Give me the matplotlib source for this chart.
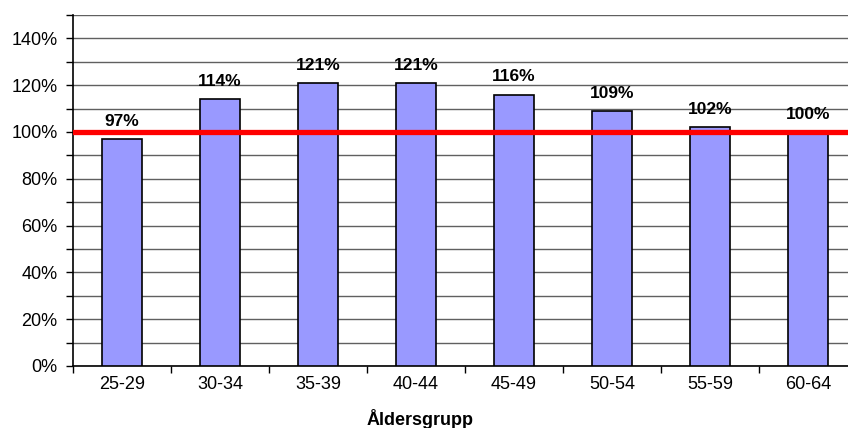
import numpy as np
import matplotlib.pyplot as plt
from matplotlib.ticker import MultipleLocator, FuncFormatter

plt.rcParams['font.family'] = ['Liberation Sans', 'DejaVu Sans']

groups = ['25-29', '30-34', '35-39', '40-44', '45-49', '50-54', '55-59', '60-64']
values = [97, 114, 121, 121, 116, 109, 102, 100]
ref_level = 100

fig = plt.figure(figsize=(8.48, 4.28), dpi=100)
# axes run a bit past the right edge of the figure
ax = fig.add_axes([73/848, 62/428, 784/848, 351/428])

x = np.arange(len(groups))
ax.bar(x, values, width=0.4, color='#9999FF', edgecolor='black', linewidth=1.2, zorder=3)
for xi, v in zip(x, values):
    ax.text(xi, v + 4.3, f'{v}%', ha='center', va='bottom', fontsize=12.5, fontweight='bold', zorder=5)

ax.axhline(ref_level, color='#FF0000', linewidth=3.8, zorder=4)

ax.set_xlim(-0.5, len(groups) - 0.5)
ax.set_ylim(0, 150)
ax.yaxis.set_major_locator(MultipleLocator(20))
ax.yaxis.set_minor_locator(MultipleLocator(10))
ax.yaxis.set_major_formatter(FuncFormatter(lambda v, p: f'{v:.0f}%'))
ax.grid(axis='y', which='both', color='#606060', linewidth=1.0, zorder=0)
ax.tick_params(axis='y', which='both', length=5, width=1, labelsize=13)
ax.tick_params(axis='y', which='major', pad=6)

ax.set_xticks(x)
ax.set_xticklabels(groups)
ax.set_xticks(np.arange(len(groups) + 1) - 0.5, minor=True)
ax.tick_params(axis='x', which='major', length=0, labelsize=13, pad=7)
ax.tick_params(axis='x', which='minor', length=5, width=1)

for s in ['top', 'right']:
    ax.spines[s].set_visible(False)
ax.spines['left'].set_linewidth(1.2)
ax.spines['bottom'].set_linewidth(1.2)

ax.set_xlabel('Åldersgrupp', fontsize=13, fontweight='bold')
ax.xaxis.set_label_coords((420 - 73)/784, -43/351)

fig.savefig('out.png', dpi=100)
